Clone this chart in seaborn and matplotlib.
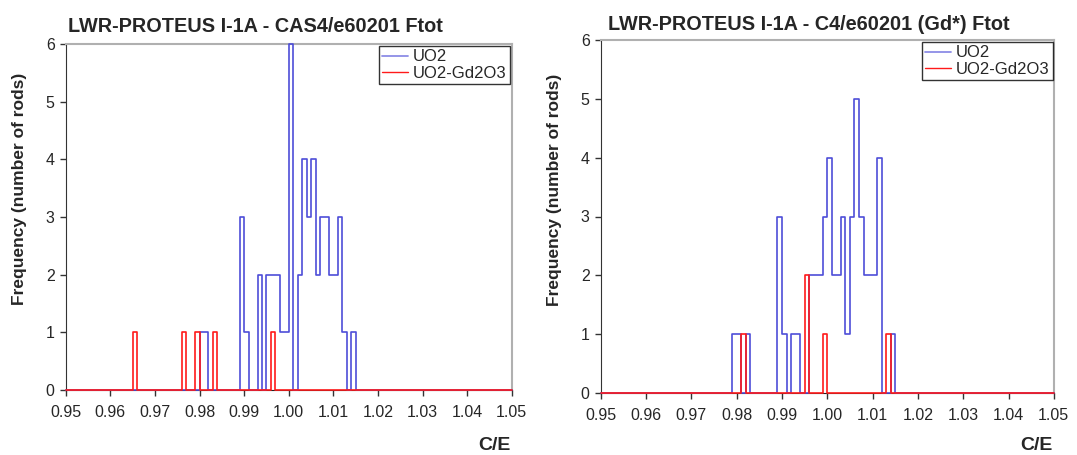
import numpy as np
import pandas as pd
import matplotlib
matplotlib.use("Agg")
import matplotlib.pyplot as plt
from matplotlib.lines import Line2D
import seaborn as sns

# ---- data (bin start of C/E, number of rods in bin; bin width 0.001) ----
left_title = "LWR-PROTEUS I-1A - CAS4/e60201 Ftot"
right_title = "LWR-PROTEUS I-1A - C4/e60201 (Gd*) Ftot"

left_uo2_bins = [0.980, 0.981, 0.989, 0.990, 0.993, 0.995, 0.996, 0.997, 0.998, 0.999,
                 1.000, 1.002, 1.003, 1.004, 1.005, 1.006, 1.007, 1.008, 1.009, 1.010,
                 1.011, 1.012, 1.014]
left_uo2_counts = [1, 1, 3, 1, 2, 2, 2, 2, 1, 1,
                   6, 2, 4, 3, 4, 2, 3, 3, 2, 2,
                   3, 1, 1]
left_gd_bins = [0.965, 0.976, 0.979, 0.983, 0.996]
left_gd_counts = [1, 1, 1, 1, 1]

right_uo2_bins = [0.979, 0.980, 0.982, 0.989, 0.990, 0.992, 0.993, 0.996, 0.997, 0.998,
                  0.999, 1.000, 1.001, 1.002, 1.003, 1.004, 1.005, 1.006, 1.007, 1.008,
                  1.009, 1.010, 1.011, 1.014]
right_uo2_counts = [1, 1, 1, 3, 1, 1, 1, 2, 2, 2,
                    3, 4, 2, 2, 3, 1, 3, 5, 3, 2,
                    2, 2, 4, 1]
right_gd_bins = [0.981, 0.995, 0.999, 1.013]
right_gd_counts = [1, 2, 1, 1]

x_ticks = [0.95, 0.96, 0.97, 0.98, 0.99, 1.00, 1.01, 1.02, 1.03, 1.04, 1.05]
y_ticks = [0, 1, 2, 3, 4, 5, 6]
series_names = ["UO2", "UO2-Gd2O3"]

BIN_W = 0.001
edges = [float(e) for e in np.linspace(0.95, 1.05, 101)]

sns.set_style("white")
plt.rcParams["font.family"] = ["Liberation Sans", "DejaVu Sans"]

BLUE = "#4e4ed8"
RED = "#ff1a1a"
LEG_BLUE = "#8c8ce6"

fig = plt.figure(figsize=(10.77, 4.55), dpi=100)
axL = fig.add_axes([65.8 / 1077, 65 / 455, 445.9 / 1077, 346 / 455])
axR = fig.add_axes([600.8 / 1077, 62 / 455, 453 / 1077, 353 / 455])


def draw(ax, ub, uc, gb, gc, leg_anchor):
    for bins, counts, col, z in ((ub, uc, BLUE, 3), (gb, gc, RED, 4)):
        values = np.repeat(np.array(bins) + BIN_W / 2, counts)
        df = pd.DataFrame({"ce": values})
        sns.histplot(data=df, x="ce", bins=edges, element="step",
                     fill=False, color=col, linewidth=1.2, ax=ax,
                     zorder=z, clip_on=False)
    ax.set_xlim(0.95, 1.05)
    ax.set_ylim(0, 6)
    ax.set_xticks(x_ticks)
    ax.set_xticklabels([f"{v:.2f}" for v in x_ticks])
    ax.set_yticks(y_ticks)
    ax.tick_params(axis="both", direction="out", length=4, width=1, color="#333333",
                   labelsize=11.5, bottom=True, left=True)
    ax.tick_params(axis="x", pad=7)
    ax.tick_params(axis="y", pad=4)
    ax.set_xlabel("")
    ax.set_ylabel("Frequency (number of rods)", fontsize=12.5, fontweight="bold")
    for s in ("top", "right"):
        ax.spines[s].set_color("#b0b0b0")
        ax.spines[s].set_linewidth(1.5)
    ax.spines["left"].set_color("#333333")
    ax.spines["bottom"].set_color("#222222")
    handles = [Line2D([], [], color=LEG_BLUE, lw=1.3), Line2D([], [], color=RED, lw=1.0)]
    leg = ax.legend(handles, series_names, loc="upper right", bbox_to_anchor=leg_anchor,
                    fontsize=12, frameon=True, fancybox=False, handlelength=1.55,
                    handletextpad=0.3, borderpad=0.2, labelspacing=0.08, borderaxespad=0,
                    handleheight=0.6)
    leg.get_frame().set_edgecolor("black")
    leg.get_frame().set_linewidth(1.0)
    leg.set_zorder(6)


draw(axL, left_uo2_bins, left_uo2_counts, left_gd_bins, left_gd_counts, (0.996, 0.994))
draw(axR, right_uo2_bins, right_uo2_counts, right_gd_bins, right_gd_counts, (0.998, 0.994))

axL.yaxis.set_label_coords(-0.087, 0.58)
axR.yaxis.set_label_coords(-0.0857, 0.575)

fig.text(255 / 1077, (455 - 31.5) / 455, left_title, ha="center", va="baseline",
         fontsize=14.3, fontweight="bold")
fig.text(809 / 1077, (455 - 30) / 455, right_title, ha="center", va="baseline",
         fontsize=14.3, fontweight="bold")
fig.text(494 / 1077, (455 - 445) / 455, "C/E", ha="center", va="center",
         fontsize=14, fontweight="bold")
fig.text(1036 / 1077, (455 - 445) / 455, "C/E", ha="center", va="center",
         fontsize=14, fontweight="bold")

fig.savefig("out.png", dpi=100, facecolor="white")
